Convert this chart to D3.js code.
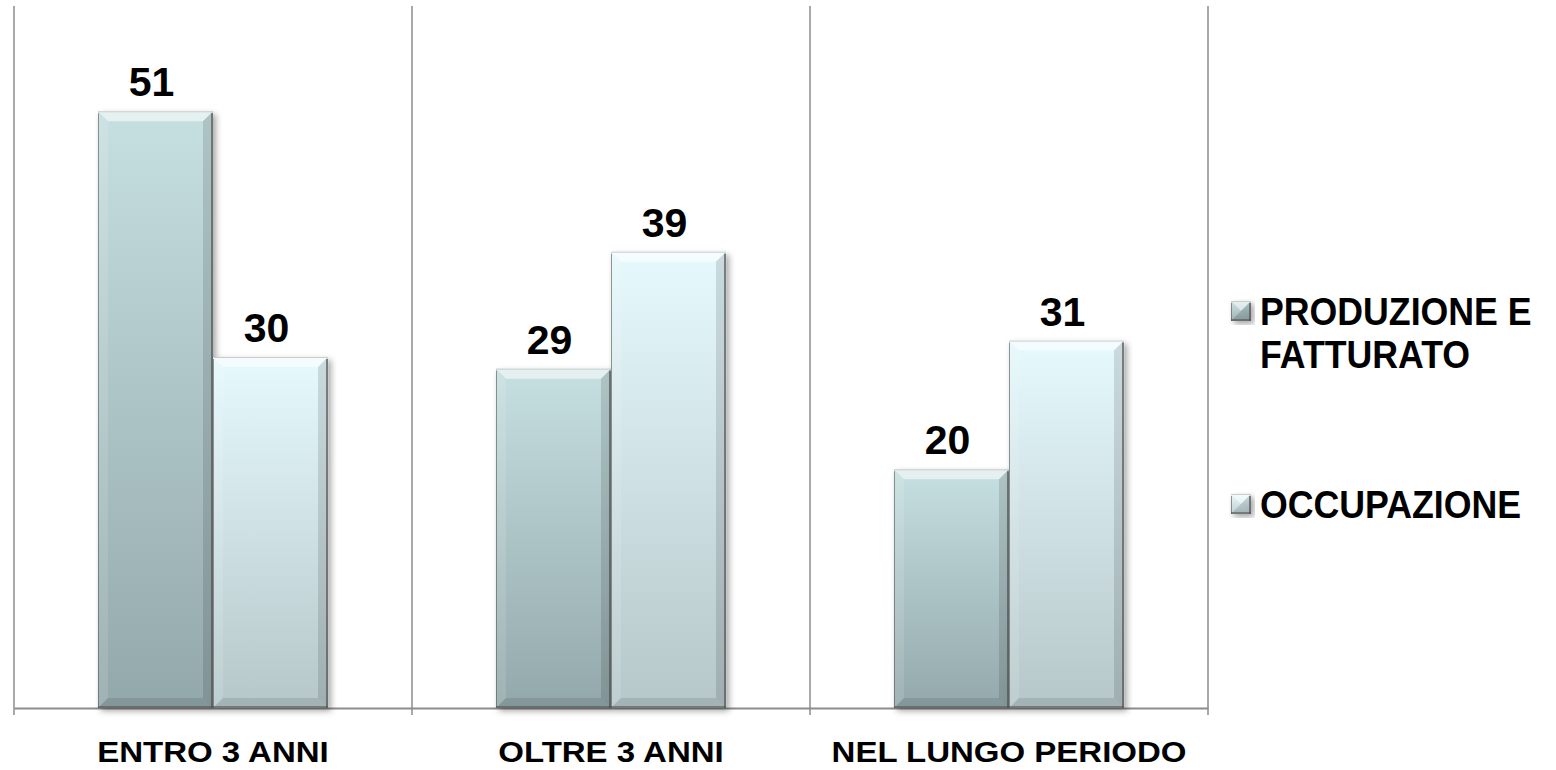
<!DOCTYPE html>
<html>
<head>
<meta charset="utf-8">
<script src="https://cdn.jsdelivr.net/npm/d3@7"></script>
<style>
  body { margin: 0; background: #fff; }
  svg text { font-family: "Liberation Sans", Arial, sans-serif; font-weight: bold; fill: #000; }
</style>
</head>
<body>
<div id="chart"></div>
<script>
// chart data
const categories = ["ENTRO 3 ANNI", "OLTRE 3 ANNI", "NEL LUNGO PERIODO"];
const seriesNames = ["PRODUZIONE E FATTURATO", "OCCUPAZIONE"];
const produzione = [51, 29, 20.4];
const occupazione = [30, 39, 31.4];
const seriesValues = [produzione, occupazione];

const width = 1556, height = 770;
const plot = { left: 14, right: 1208, top: 6, bottom: 708 };

const svg = d3.select("#chart").append("svg")
  .attr("width", width)
  .attr("height", height);

const defs = svg.append("defs");

// gradients for the two series (top -> bottom)
const gradColors = [
  ["#c6dfe0", "#93a8aa"],
  ["#e6f9fd", "#b6c7c9"]
];
gradColors.forEach((c, i) => {
  const g = defs.append("linearGradient")
    .attr("id", "grad" + i)
    .attr("x1", 0).attr("y1", 0).attr("x2", 0).attr("y2", 1);
  g.append("stop").attr("offset", "0%").attr("stop-color", c[0]);
  g.append("stop").attr("offset", "100%").attr("stop-color", c[1]);
});

const shadow = defs.append("filter").attr("id", "shadow")
  .attr("x", "-10%").attr("y", "-10%").attr("width", "130%").attr("height", "130%");
shadow.append("feDropShadow")
  .attr("dx", 3).attr("dy", 3).attr("stdDeviation", 3)
  .attr("flood-color", "#000").attr("flood-opacity", 0.35);

const x = d3.scaleBand()
  .domain(categories)
  .range([plot.left, plot.right]);

const bw = x.bandwidth();
const xs = d3.scaleBand()
  .domain(seriesNames)
  .range([bw * 0.211, bw * 0.789]);

const y = d3.scaleLinear()
  .domain([0, 60])
  .range([plot.bottom, plot.top]);

// vertical separators between categories
const bounds = categories.map(c => x(c)).concat([x.range()[1]]);
svg.append("g").selectAll("line")
  .data(bounds)
  .enter().append("line")
  .attr("x1", d => d).attr("x2", d => d)
  .attr("y1", plot.top).attr("y2", plot.bottom + 7)
  .attr("stroke", "#8c8c8c")
  .attr("stroke-width", 1.5);

// category axis
const axis = svg.append("g")
  .attr("transform", `translate(0,${plot.bottom})`)
  .call(d3.axisBottom(x).tickSize(0));
axis.select(".domain").attr("stroke", "#8c8c8c").attr("stroke-width", 2);
axis.selectAll("text")
  .attr("dy", null)
  .attr("y", 54)
  .attr("transform", "scale(1.1,1)")
  .attr("font-size", "30px")
  .attr("font-family", "'Liberation Sans', Arial, sans-serif")
  .attr("font-weight", "bold")
  .attr("fill", "#000");

// draw a bevelled bar
function bevelBar(g, x0, y0, w, h, fill) {
  const b = Math.min(10, h / 2);
  g.append("rect")
    .attr("x", x0).attr("y", y0).attr("width", w).attr("height", h)
    .attr("fill", fill)
    .attr("filter", "url(#shadow)");
  // top highlight
  g.append("path")
    .attr("d", `M${x0},${y0} L${x0 + w},${y0} L${x0 + w - b},${y0 + b} L${x0 + b},${y0 + b} Z`)
    .attr("fill", "#fff").attr("opacity", 0.55);
  // left edge
  g.append("path")
    .attr("d", `M${x0},${y0} L${x0 + b},${y0 + b} L${x0 + b},${y0 + h - b} L${x0},${y0 + h} Z`)
    .attr("fill", "#fff").attr("opacity", 0.12);
  // right edge
  g.append("path")
    .attr("d", `M${x0 + w},${y0} L${x0 + w},${y0 + h} L${x0 + w - b},${y0 + h - b} L${x0 + w - b},${y0 + b} Z`)
    .attr("fill", "#000").attr("opacity", 0.12);
  // bottom edge
  g.append("path")
    .attr("d", `M${x0},${y0 + h} L${x0 + w},${y0 + h} L${x0 + w - b},${y0 + h - b} L${x0 + b},${y0 + h - b} Z`)
    .attr("fill", "#000").attr("opacity", 0.1);
  // outline lines
  g.append("line")
    .attr("x1", x0 + w - 1).attr("x2", x0 + w - 1).attr("y1", y0 + 2).attr("y2", y0 + h)
    .attr("stroke", "#555").attr("stroke-width", 2).attr("opacity", 0.7);
  g.append("line")
    .attr("x1", x0 + 0.5).attr("x2", x0 + 0.5).attr("y1", y0 + 2).attr("y2", y0 + h)
    .attr("stroke", "#555").attr("stroke-width", 1).attr("opacity", 0.6);
  g.append("line")
    .attr("x1", x0).attr("x2", x0 + w).attr("y1", y0 + h - 1).attr("y2", y0 + h - 1)
    .attr("stroke", "#555").attr("stroke-width", 2).attr("opacity", 0.6);
  g.append("line")
    .attr("x1", x0).attr("x2", x0 + w).attr("y1", y0 + 0.5).attr("y2", y0 + 0.5)
    .attr("stroke", "#ccc").attr("stroke-width", 1);
}

const bars = svg.append("g");
categories.forEach((cat, ci) => {
  seriesNames.forEach((s, si) => {
    const v = seriesValues[si][ci];
    const bx = x(cat) + xs(s);
    const by = y(v);
    bevelBar(bars.append("g"), bx, by, xs.bandwidth(), y(0) - by, `url(#grad${si})`);
    svg.append("text")
      .attr("x", bx + xs.bandwidth() / 2 - 4)
      .attr("y", by - 15)
      .attr("text-anchor", "middle")
      .attr("font-size", "41px")
      .text(Math.round(v));
  });
});

// legend
const legendItems = [
  { lines: ["PRODUZIONE E", "FATTURATO"], y: 311 },
  { lines: ["OCCUPAZIONE"], y: 504 }
];
legendItems.forEach((item, i) => {
  const g = svg.append("g");
  bevelBar(g, 1231, item.y - 10, 20, 20, `url(#grad${i})`);
  item.lines.forEach((ln, li) => {
    g.append("text")
      .attr("transform", `translate(1260,${item.y + 14 + li * 43}) scale(1.02,1.1)`)
      .attr("font-size", "35px")
      .text(ln);
  });
});
</script>
</body>
</html>
